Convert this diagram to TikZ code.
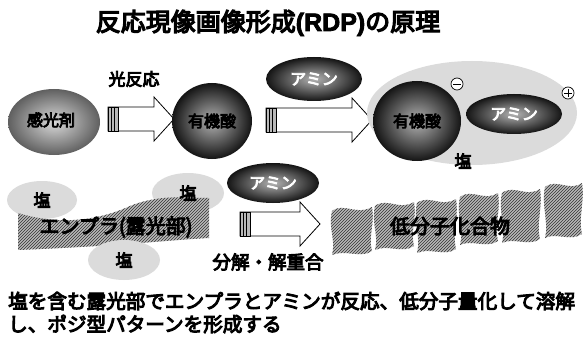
\documentclass[tikz,border=0pt]{standalone}
\usepackage{fontspec}
\newfontfamily\cjk[FakeBold=5]{Noto Sans CJK JP}
\newfontfamily\latb[FakeBold=3]{Liberation Sans Bold}
\usetikzlibrary{shapes.geometric,patterns}
\newcommand\fs[1]{\cjk\fontsize{#1}{#1}\selectfont}
\newcommand\fragment[4]{%
  \path[hatchfill] (#1,#3+4) .. controls (#1+12,#3-5) and (#1+24,#3+9) .. (#2,#3)
     .. controls (#2+3,#3+18) and (#2-4,#4-20) .. (#2,#4-4)
     .. controls (#2-12,#4+4) and (#2-26,#4-6) .. (#1,#4)
     .. controls (#1+4,#4-16) and (#1-4,#3+22) .. (#1,#3+4) -- cycle;}
\tikzset{
  darkball/.style={ellipse, inner sep=0pt, inner color=gray!60, outer color=black!92},
  midball/.style={ellipse, inner sep=0pt, inner color=gray!30, outer color=gray!75!black},
  saltbub/.style={ellipse, inner sep=0pt, fill=gray!28},
  hatchfill/.style={fill=gray!55, postaction={pattern=north east lines, pattern color=black!80}},
  lbl/.style={font=\fs{16}},
  blockarr/.pic={
    \draw[fill=white, line width=0.8pt] (0,-12) -- (#1-20,-12) -- (#1-20,-22) -- (#1,0)
      -- (#1-20,22) -- (#1-20,12) -- (0,12) -- cycle;
    \fill[gray!55] (0,-12) rectangle (10,12);
    \draw[line width=0.8pt] (0,-12) rectangle (10,12);
    \draw[line width=0.6pt] (3,-12) -- (3,12) (6.5,-12) -- (6.5,12);
  }
}
\begin{document}
\begin{tikzpicture}[x=1pt,y=-1pt]
\useasboundingbox (0,0) rectangle (585,339);
% title
\node (title) at (268,23) {\fs{25}反応現像画像形成{\latb\fontsize{25}{25}\selectfont(RDP)}の原理};
% top row
\node[font=\fs{17}] (photo) at (134,79) {光反応};
\node[midball, minimum width=92pt, minimum height=66pt] (sens) at (54,122) {};
\node[lbl] (senst) at (51,120) {感光剤};
\coordinate (a1) at (108,119);
\pic at (a1) {blockarr=66};
\node[darkball, minimum width=80pt, minimum height=76pt] (acid1) at (212,121) {};
\node[lbl] (acid1t) at (acid1) {有機酸};
\coordinate (a2) at (266,120);
\pic at (a2) {blockarr=106};
\node[darkball, minimum width=96pt, minimum height=44pt] (amine1) at (314,79) {};
\node[lbl, text=white] (amine1t) at (amine1) {アミン};
% salt group
\node[saltbub, minimum width=210pt, minimum height=104pt] (salt) at (472,113) {};
\node[darkball, minimum width=88pt, minimum height=80pt] (acid2) at (417,121) {};
\node[lbl] (acid2t) at (acid2) {有機酸};
\node[darkball, minimum width=96pt, minimum height=40pt] (amine2) at (514,114) {};
\node[lbl, text=white] (amine2t) at (amine2) {アミン};
\node[circle, draw, fill=white, minimum size=12pt, inner sep=0pt, line width=0.7pt] (minus) at (457,84) {};
\draw[line width=0.8pt] ([xshift=-4pt]minus.center) -- ([xshift=4pt]minus.center);
\node[circle, draw, fill=white, minimum size=12pt, inner sep=0pt, line width=0.7pt] (plus) at (568,93) {};
\draw[line width=0.8pt] ([xshift=-4pt]plus.center) -- ([xshift=4pt]plus.center)
  ([yshift=-4pt]plus.center) -- ([yshift=4pt]plus.center);
\node[font=\fs{17}] (saltt) at (463,161) {塩};
% lower row
\node[saltbub, minimum width=70pt, minimum height=38pt] (b1) at (42,200) {};
\node[saltbub, minimum width=72pt, minimum height=40pt] (b2) at (188,193) {};
\path[hatchfill] (18,213) .. controls (60,226) and (100,220) .. (130,206)
   .. controls (160,194) and (185,198) .. (209,198) -- (209,238)
   .. controls (170,240) and (120,246) .. (18,250) -- cycle;
\node[saltbub, minimum width=72pt, minimum height=40pt] (b3) at (124,260) {};
\node[font=\fs{17}] (b1t) at (b1) {塩};
\node[font=\fs{17}] (b2t) at (b2) {塩};
\node[font=\fs{17}] (b3t) at (b3) {塩};
\node[font=\fs{20}] (band) at (116,227) {エンプラ(露光部)};
\coordinate (a3) at (240,224);
\pic at (a3) {blockarr=80};
\node[darkball, minimum width=92pt, minimum height=40pt] (amine3) at (273,183) {};
\node[lbl, text=white] (amine3t) at (amine3) {アミン};
\node[font=\fs{18.5}] (decomp) at (268,262) {分解・解重合};
\fragment{332}{372}{207}{255}
\fragment{375}{414}{202}{250}
\fragment{417}{456}{199}{253}
\fragment{460}{498}{193}{245}
\fragment{502}{540}{189}{243}
\fragment{545}{582}{183}{238}
\node[font=\fs{20}] (lowmol) at (450,226) {低分子化合物};
% caption
\node[anchor=west, inner sep=0pt, font=\fs{19.6}] (cap1) at (8,301) {塩を含む露光部でエンプラとアミンが反応、低分子量化して溶解};
\node[anchor=west, inner sep=0pt, font=\fs{19.6}] (cap2) at (8,324) {し、ポジ型パターンを形成する};
\end{tikzpicture}
\end{document}
